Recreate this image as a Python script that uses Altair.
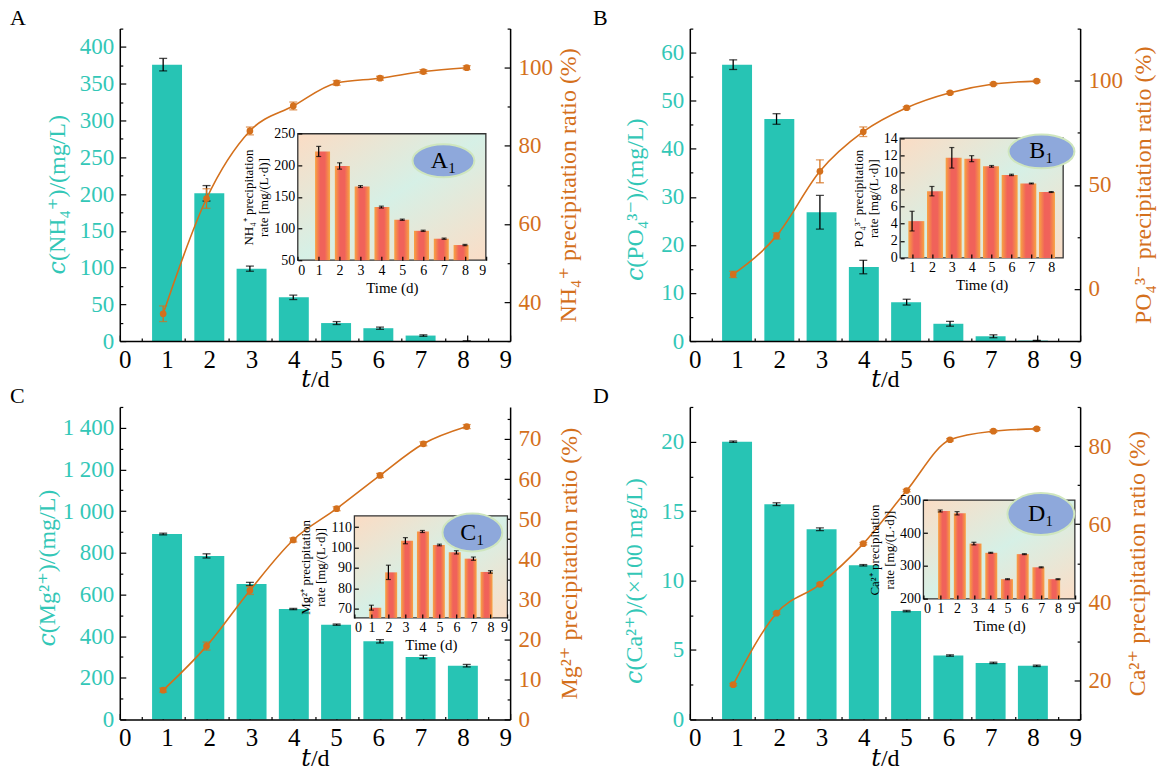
import altair as alt
import pandas as pd

# ---------------- data ----------------
t = [1, 2, 3, 4, 5, 6, 7, 8]

A_conc = [376, 201, 98.5, 59.5, 24.5, 17.5, 7.5, 0]
A_conc_err = [8.5, 10.5, 3.5, 3, 2, 1.5, 1, 0]
A_ratio = [37.0, 66.5, 83.8, 90.2, 96.1, 97.3, 99.0, 100.0]
A_ratio_err = [2.0, 2.5, 1.0, 1.0, 0.6, 0.5, 0.5, 0.5]
A_rate = [222, 199, 166.5, 134, 114, 96.5, 84, 74]
A_rate_err = [8, 5, 1.5, 1.5, 1, 1, 1, 1]

B_conc = [57.5, 46.2, 26.8, 15.4, 8.1, 3.6, 1.0, 0.1]
B_conc_err = [1.0, 1.1, 3.5, 1.4, 0.6, 0.5, 0.3, 0.05]
B_ratio = [7.0, 25.5, 56.5, 75.5, 87.0, 94.2, 98.4, 99.8]
B_ratio_err = [1.5, 1.5, 5.5, 2.3, 0.5, 0.5, 0.5, 0.5]
B_rate = [4.3, 7.8, 11.7, 11.6, 10.7, 9.7, 8.7, 7.7]
B_rate_err = [1.15, 0.55, 1.2, 0.35, 0.1, 0.08, 0.05, 0.05]

C_conc = [890, 785, 650, 530, 455, 375, 300, 258]
C_conc_err = [4, 10, 8, 3, 3, 8, 8, 6]
C_ratio = [7.3, 18.3, 32.2, 44.8, 52.6, 60.9, 68.8, 73.1]
C_ratio_err = [0.5, 1.0, 1.0, 0.5, 0.5, 0.5, 0.5, 0.5]
C_rate = [70.5, 87.8, 103.3, 107.8, 101.2, 97.6, 94.5, 88.0]
C_rate_err = [1.2, 3.5, 1.5, 0.5, 0.4, 0.8, 0.8, 0.6]

D_conc = [20.0, 15.5, 13.7, 11.1, 7.8, 4.6, 4.07, 3.86]
D_conc_err = [0.05, 0.1, 0.1, 0.05, 0.05, 0.05, 0.05, 0.05]
D_ratio = [18.9, 37.2, 44.6, 55.0, 68.6, 81.6, 83.8, 84.4]
D_ratio_err = [0.3, 0.3, 0.3, 0.3, 0.3, 0.3, 0.3, 0.3]
D_rate = [467, 460, 368, 340, 260, 336, 296, 260]
D_rate_err = [3, 5, 4, 1.5, 1.5, 1.5, 1.5, 1.5]

# ---------------- styling ----------------
TEAL = "#27C4B4"
TEAL_TXT = "#33C7B7"
ORANGE = "#D4701C"
FONT = "Liberation Serif"
TFONT = "Liberation Serif, DejaVu Serif"
W, H = 391, 313

BAR_GRAD = alt.LinearGradient(
    gradient="linear", x1=0, y1=0, x2=1, y2=0,
    stops=[alt.GradientStop(offset=0, color="#F8A442"),
           alt.GradientStop(offset=0.35, color="#F0625A"),
           alt.GradientStop(offset=0.65, color="#F0625A"),
           alt.GradientStop(offset=1, color="#F8A442")])
BG_GRAD = alt.LinearGradient(
    gradient="linear", x1=0, y1=0, x2=1, y2=1,
    stops=[alt.GradientStop(offset=0, color="#FBDCC4"),
           alt.GradientStop(offset=0.5, color="#D6F0E6"),
           alt.GradientStop(offset=1, color="#FBDDC6")])


def steps(a, b, s):
    out, v = [], a
    while v <= b + 1e-9:
        out.append(round(v, 4))
        v += s
    return out


def tick_axis(orient, offset, values, size, z=0):
    return alt.Axis(orient=orient, offset=offset, values=values, labels=False,
                    domain=False, ticks=True, tickSize=size, tickColor="black",
                    tickWidth=1.2, title=None, grid=False, zindex=z)


def panel(conc, conc_err, ratio, ratio_err, rate, rate_err, s):
    lo = [c - e for c, e in zip(conc, conc_err)]
    hi = [c + e for c, e in zip(conc, conc_err)]
    rlo = [c - e for c, e in zip(ratio, ratio_err)]
    rhi = [c + e for c, e in zip(ratio, ratio_err)]
    ilo = [c - e for c, e in zip(rate, rate_err)]
    ihi = [c + e for c, e in zip(rate, rate_err)]
    main = pd.DataFrame({"t": t, "conc": conc, "lo": lo, "hi": hi,
                         "ratio": ratio, "rlo": rlo, "rhi": rhi})
    caps = pd.DataFrame({"t": t + t, "cap": lo + hi, "rcap": rlo + rhi})
    ins = pd.DataFrame({"t": t, "rate": rate, "lo": ilo, "hi": ihi})
    icaps = pd.DataFrame({"t": t + t, "cap": ilo + ihi})
    one = pd.DataFrame({"k": [0]})

    sx = alt.Scale(domain=[0, 9], nice=False, zero=False)
    syl = alt.Scale(domain=[0, s["ymax"]], nice=False)
    syr = alt.Scale(domain=s["rdom"], nice=False, zero=False)
    fx0, fx1, fy0, fy1 = s["frame"]
    sxi = alt.Scale(domain=s["ixdom"], range=[fx0, fx1], nice=False, zero=False)
    syi = alt.Scale(domain=s["iydom"], range=[fy1, fy0], nice=False, zero=False, clamp=True)

    x_main_axis = alt.Axis(orient="bottom", values=list(range(10)), format="d", ticks=False,
                           labelFont=FONT, labelFontSize=25, labelColor="black", labelPadding=6,
                           title="𝑡/d", titleFont=TFONT, titleFontSize=24, titleFontWeight="normal",
                           titleColor="black", titleBaseline="alphabetic", titleY=46,
                           domainColor="black", domainWidth=1.5,
                           grid=False, zindex=1)
    lkw = dict(orient="left", values=s["lv"], ticks=False, labelFont=FONT, labelFontSize=23,
               labelColor=TEAL_TXT, labelPadding=6, title=s["ltitle"], titleFont=TFONT,
               titleFontSize=24, titleFontWeight="normal", titleColor=TEAL_TXT,
               titleX=s["ltx"], titleY=s["lty"],
               domainColor="black", domainWidth=1.5, grid=False, zindex=1)
    if s.get("thousands"):
        lkw["labelExpr"] = "replace(format(datum.value, ','), ',', ' ')"
    left_axis = alt.Axis(**lkw)
    right_axis = alt.Axis(orient="right", values=s["rv"], ticks=False, labelFont=FONT,
                          labelFontSize=23, labelColor=ORANGE, labelPadding=8,
                          title=s["rtitle"], titleFont=TFONT, titleFontSize=24,
                          titleFontWeight="normal", titleColor=ORANGE,
                          titleAngle=270, titleBaseline="top", titleX=s["rtx"],
                          domainColor="black", domainWidth=1.5, grid=False, zindex=1)

    bars = alt.Chart(main).mark_bar(color=TEAL, size=30).encode(
        x=alt.X("t:Q", scale=sx, axis=x_main_axis),
        y=alt.Y("conc:Q", scale=syl, axis=left_axis))
    err = alt.Chart(main).mark_rule(color="black", strokeWidth=1.3).encode(
        x=alt.X("t:Q", scale=sx, axis=tick_axis("top", -H, list(range(10)), 6)),
        y=alt.Y("lo:Q", scale=syl, axis=tick_axis("right", -W, s["lv"], 6)),
        y2="hi:Q")
    errcap = alt.Chart(caps).mark_tick(color="black", orient="horizontal", size=8, thickness=1.3).encode(
        x=alt.X("t:Q", scale=sx, axis=tick_axis("top", -H, steps(0.5, 8.5, 1), 3)),
        y=alt.Y("cap:Q", scale=syl, axis=tick_axis("right", -W, s["lminor"], 3)))
    line = alt.Chart(main).mark_line(color=ORANGE, strokeWidth=1.6, interpolate="monotone").encode(
        x=alt.X("t:Q", scale=sx, axis=None),
        y=alt.Y("ratio:Q", scale=syr, axis=right_axis))
    rerr = alt.Chart(main).mark_rule(color=ORANGE, strokeWidth=1.3).encode(
        x=alt.X("t:Q", scale=sx, axis=None),
        y=alt.Y("rlo:Q", scale=syr, axis=tick_axis("left", -W, s["rv"], 6)),
        y2="rhi:Q")
    rcap = alt.Chart(caps).mark_tick(color=ORANGE, orient="horizontal", size=8, thickness=1.3).encode(
        x=alt.X("t:Q", scale=sx, axis=None),
        y=alt.Y("rcap:Q", scale=syr, axis=tick_axis("left", -W, s["rminor"], 3)))
    pts = alt.Chart(main).mark_point(filled=True, color=ORANGE, size=45, opacity=1).encode(
        x=alt.X("t:Q", scale=sx, axis=None),
        y=alt.Y("ratio:Q", scale=syr, axis=None))

    ix_axis = alt.Axis(orient="bottom", offset=-(H - fy1), values=s["ixv"], ticks=False,
                       labelFont=FONT, labelFontSize=14, labelColor="black", labelPadding=3,
                       title="Time (d)", titleFont=FONT, titleFontSize=15, titleFontWeight="normal",
                       titleColor="black", titlePadding=3, domain=False, grid=False, zindex=1)
    iy_axis = alt.Axis(orient="left", offset=-fx0, values=s["iyv"], ticks=False,
                       labelFont=FONT, labelFontSize=14, labelColor="black", labelPadding=3,
                       title=s["ititle"], titleFont=FONT, titleFontSize=13, titleFontWeight="normal",
                       titleColor="black", titlePadding=3, domain=False, grid=False, zindex=1)
    frame = alt.Chart(one).mark_rect(fill=BG_GRAD, stroke="#333333", strokeWidth=1.3).encode(
        x=alt.X(datum=s["ixdom"][0], type="quantitative", scale=sxi, axis=ix_axis),
        x2=alt.X2(datum=s["ixdom"][1]),
        y=alt.Y(datum=s["iydom"][0], type="quantitative", scale=syi, axis=iy_axis),
        y2=alt.Y2(datum=s["iydom"][1]))
    ibars = alt.Chart(ins).mark_bar(color=BAR_GRAD, size=s["ibw"]).encode(
        x=alt.X("t:Q", scale=sxi, axis=None),
        y=alt.Y("rate:Q", scale=syi, axis=None),
        y2=alt.Y2(datum=s["iydom"][0]))
    ierr = alt.Chart(ins).mark_rule(color="black", strokeWidth=1.2).encode(
        x=alt.X("t:Q", scale=sxi, axis=tick_axis("top", -fy1, s["ixv"], 4, 1)),
        y=alt.Y("lo:Q", scale=syi, axis=tick_axis("right", fx0 - W, s["iyv"], 4, 1)),
        y2="hi:Q")
    icap = alt.Chart(icaps).mark_tick(color="black", orient="horizontal", size=5, thickness=1.2).encode(
        x=alt.X("t:Q", scale=sxi, axis=None),
        y=alt.Y("cap:Q", scale=syi, axis=None))
    ex, ey, ew, eh = s["ell"]
    r = eh / ew
    shape = f"M-1,0A1,{r:.3f},0,1,0,1,0A1,{r:.3f},0,1,0,-1,0Z"
    ell = alt.Chart(one).mark_point(shape=shape, size=ew * ew, filled=True, fill="#8EA8DB",
                                    stroke="#CFE6BE", strokeWidth=2, opacity=1).encode(
        x=alt.X(datum=ex, type="quantitative", scale=sxi, axis=None),
        y=alt.Y(datum=ey, type="quantitative", scale=syi, axis=None))
    etxt = alt.Chart(one).mark_text(text=s["elabel"], font=FONT, fontSize=24, color="black",
                                    align="center", baseline="middle").encode(
        x=alt.X(datum=ex, type="quantitative", scale=sxi, axis=None),
        y=alt.Y(datum=ey, type="quantitative", scale=syi, axis=None))
    plab = alt.Chart(one).mark_text(text=s["label"], font=FONT, fontSize=22, color="black",
                                    align="left", baseline="top").encode(
        x=alt.value(s["lab_x"]), y=alt.value(-21))

    return alt.layer(bars, err, errcap, line, rerr, rcap, pts,
                     frame, ibars, ierr, icap, ell, etxt, plab).resolve_scale(
        x="independent", y="independent").properties(width=W, height=H)


SA = dict(label="A", lab_x=-110, ymax=425, lv=steps(0, 400, 50), lminor=steps(25, 425, 50),
          rdom=[30, 110], rv=[40, 60, 80, 100], rminor=[30, 50, 70, 90, 110],
          ltitle="𝑐(NH₄⁺)/(mg/L)", rtitle="NH₄⁺ precipitation ratio (%)",
          ltx=-50, lty=166, rtx=46,
          ixdom=[0, 9], iydom=[50, 250], frame=(178.3, 366.7, 105.3, 232.0),
          ixv=list(range(10)), iyv=steps(50, 250, 50),
          ititle=["NH₄⁺ precipitation", "rate [mg/(L·d)]"], ibw=15,
          ell=(6.97, 207.4, 62, 33), elabel="A₁")
SB = dict(label="B", lab_x=-97, ymax=65, lv=steps(0, 60, 10), lminor=steps(5, 65, 10),
          rdom=[-25, 125], rv=[0, 50, 100], rminor=[-25, 25, 75, 125],
          ltitle="𝑐(PO₄³⁻)/(mg/L)", rtitle="PO₄³⁻ precipitation ratio (%)",
          ltx=-42, lty=171, rtx=51,
          ixdom=[0.4, 8.6], iydom=[0, 14], frame=(210.7, 374.0, 109.7, 229.7),
          ixv=list(range(1, 9)), iyv=steps(0, 14, 2),
          ititle=["PO₄³⁻ precipitation", "rate [mg/(L·d)]"], ibw=16,
          ell=(7.51, 12.45, 66, 34), elabel="B₁")
SC = dict(label="C", lab_x=-110, ymax=1500, lv=steps(0, 1400, 200), lminor=steps(100, 1500, 200),
          thousands=True,
          rdom=[0, 78], rv=steps(0, 70, 10), rminor=steps(5, 75, 10),
          ltitle="𝑐(Mg²⁺)/(mg/L)", rtitle="Mg²⁺ precipitation ratio (%)",
          ltx=-60, lty=161, rtx=47,
          ixdom=[0, 9], iydom=[65.5, 115.5], frame=(235.0, 388.3, 109.0, 211.3),
          ixv=list(range(10)), iyv=steps(70, 110, 10),
          ititle=["Mg²⁺ precipitation", "rate [mg/(L·d)]"], ibw=12,
          ell=(6.94, 107.3, 60, 38), elabel="C₁")
SD = dict(label="D", lab_x=-97, ymax=22.5, lv=steps(0, 20, 5), lminor=steps(2.5, 22.5, 5),
          rdom=[10, 90], rv=[20, 40, 60, 80], rminor=[10, 30, 50, 70, 90],
          ltitle="𝑐(Ca²⁺)/(×100 mg/L)", rtitle="Ca²⁺ precipitation ratio (%)",
          ltx=-43, lty=174, rtx=45,
          ixdom=[0, 9], iydom=[200, 500], frame=(234.0, 385.7, 93.3, 192.3),
          ixv=list(range(10)), iyv=steps(200, 500, 100),
          ititle=["Ca²⁺ precipitation", "rate [mg/(L·d)]"], ibw=12,
          ell=(6.98, 457.6, 67, 42), elabel="D₁")

pA = panel(A_conc, A_conc_err, A_ratio, A_ratio_err, A_rate, A_rate_err, SA)
pB = panel(B_conc, B_conc_err, B_ratio, B_ratio_err, B_rate, B_rate_err, SB)
pC = panel(C_conc, C_conc_err, C_ratio, C_ratio_err, C_rate, C_rate_err, SC)
pD = panel(D_conc, D_conc_err, D_ratio, D_ratio_err, D_rate, D_rate_err, SD)

chart = alt.concat(pA, pB, pC, pD, columns=2, spacing={"row": 66, "column": 180},
                   bounds="flush").configure_view(strokeWidth=0).properties(
    padding={"left": 10, "top": 6, "right": 2, "bottom": 0})

chart.save("out.html", embed_options={"renderer": "svg", "actions": False})
